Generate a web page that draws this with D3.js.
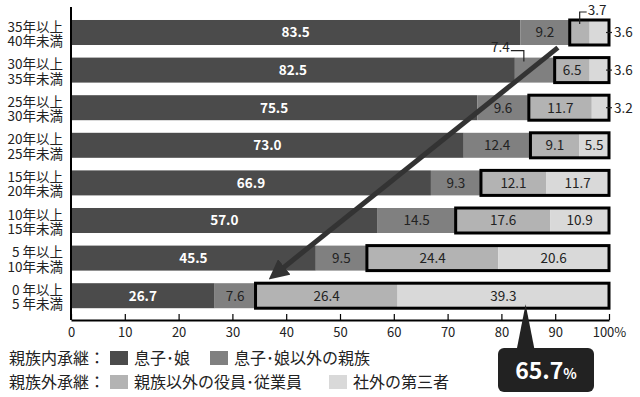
<!DOCTYPE html>
<html><head><meta charset="utf-8">
<script src="https://cdn.jsdelivr.net/npm/d3@7"></script>
<style>
body{margin:0;background:#fff}
text{font-family:'Noto Sans CJK JP','Noto Sans',sans-serif}
</style>
</head><body>
<svg width="640" height="397"></svg>
<script>
const categories = ['35年以上|40年未満', '30年以上|35年未満', '25年以上|30年未満', '20年以上|25年未満',
  '15年以上|20年未満', '10年以上|15年未満', '5 年以上|10年未満', '0 年以上|5 年未満'];
const sonDaughter = [83.5, 82.5, 75.5, 73.0, 66.9, 57.0, 45.5, 26.7];
const otherRelatives = [9.2, 7.4, 9.6, 12.4, 9.3, 14.5, 9.5, 7.6];
const employees = [3.7, 6.5, 11.7, 9.1, 12.1, 17.6, 24.4, 26.4];
const thirdParty = [3.6, 3.6, 3.2, 5.5, 11.7, 10.9, 20.6, 39.3];
const seriesNames = ['息子･娘', '息子･娘以外の親族', '親族以外の役員･従業員', '社外の第三者'];
const groupNames = ['親族内承継：', '親族外承継：'];
const xTicks = [0, 10, 20, 30, 40, 50, 60, 70, 80, 90, 100];
const calloutValue = '65.7';

const colors = ['#4b4b4b', '#808080', '#b3b3b3', '#d9d9d9'];
const keys = ['s0', 's1', 's2', 's3'];

const svg = d3.select('svg');

const data = categories.map((c, i) => ({
  cat: c, i,
  s0: sonDaughter[i], s1: otherRelatives[i], s2: employees[i], s3: thirdParty[i]
}));

const x = d3.scaleLinear().domain([0, 100]).range([71, 609]);
const y = d3.scaleBand().domain(categories).range([13.7, 314.5])
  .paddingInner(0.335).paddingOuter(0.1675);

const stacked = d3.stack().keys(keys)(data);

// small segments labelled outside the bar
const outside = {'0-2': 'top', '0-3': 'right', '1-1': 'topleft', '1-3': 'right', '2-3': 'right'};

const layers = svg.append('g').selectAll('g').data(stacked).enter().append('g')
  .attr('fill', (d, k) => colors[k]);

layers.selectAll('rect').data(d => d).enter().append('rect')
  .attr('x', d => x(d[0]))
  .attr('y', d => y(d.data.cat))
  .attr('width', d => x(d[1]) - x(d[0]))
  .attr('height', y.bandwidth());

// outlined boxes around the non-family succession part
svg.append('g').selectAll('rect').data(data).enter().append('rect')
  .attr('x', d => x(d.s0 + d.s1))
  .attr('y', d => y(d.cat))
  .attr('width', d => x(100) - x(d.s0 + d.s1))
  .attr('height', y.bandwidth())
  .attr('fill', 'none').attr('stroke', '#000').attr('stroke-width', 3);

// segment labels
stacked.forEach((layer, k) => {
  layer.forEach((d, i) => {
    const pos = outside[i + '-' + k];
    const cy = y(d.data.cat) + y.bandwidth() / 2;
    const cx = (x(d[0]) + x(d[1])) / 2;
    const val = (d[1] - d[0]).toFixed(1);
    if (!pos) {
      svg.append('text').attr('x', cx).attr('y', cy).attr('dy', '0.36em')
        .attr('text-anchor', 'middle').attr('font-size', 13.5)
        .attr('font-weight', k === 0 ? 'bold' : 'normal')
        .attr('fill', k === 0 ? '#fff' : '#222').text(val);
    } else if (pos === 'right') {
      svg.append('line').attr('x1', x(100) - 3).attr('x2', x(100) + 3)
        .attr('y1', cy).attr('y2', cy).attr('stroke', '#222').attr('stroke-width', 1.2);
      svg.append('text').attr('x', x(100) + 5).attr('y', cy).attr('dy', '0.36em')
        .attr('font-size', 13.5).attr('fill', '#222').text(val);
    } else if (pos === 'top') {
      const top = y(d.data.cat);
      svg.append('path').attr('d', `M${cx},${top + 4}V${top - 8}H${cx + 7}`)
        .attr('fill', 'none').attr('stroke', '#222').attr('stroke-width', 1.2);
      svg.append('text').attr('x', cx + 8).attr('y', top - 8).attr('dy', '0.2em')
        .attr('font-size', 13.5).attr('fill', '#222').text(val);
    } else if (pos === 'topleft') {
      const top = y(d.data.cat);
      const lx = x(d[0]) + 9;
      svg.append('path').attr('d', `M${lx},${top + 4}V${top - 7}H${lx - 13}`)
        .attr('fill', 'none').attr('stroke', '#222').attr('stroke-width', 1.2);
      svg.append('text').attr('x', lx - 14).attr('y', top - 7).attr('dy', '0.1em')
        .attr('text-anchor', 'end')
        .attr('font-size', 13.5).attr('fill', '#222').text(val);
    }
  });
});

// y category labels, two lines each
const yl = svg.append('g').selectAll('g').data(categories).enter().append('g')
  .attr('transform', d => `translate(63,${y(d) + y.bandwidth() / 2})`);
yl.append('text').attr('y', -1).attr('text-anchor', 'end').attr('font-size', 13.5)
  .attr('fill', '#222').text(d => d.split('|')[0]);
yl.append('text').attr('y', 13.5).attr('text-anchor', 'end').attr('font-size', 13.5)
  .attr('fill', '#222').text(d => d.split('|')[1]);

// left axis line
svg.append('line').attr('x1', x(0)).attr('x2', x(0)).attr('y1', 7).attr('y2', 320)
  .attr('stroke', '#000').attr('stroke-width', 2);

// x axis
const xAxis = d3.axisBottom(x).tickValues(xTicks).tickSize(-6).tickSizeOuter(0)
  .tickPadding(8).tickFormat(d => d === 100 ? '100%' : d);
const xg = svg.append('g').attr('transform', 'translate(0,320)').call(xAxis);
xg.select('.domain').attr('stroke', '#000').attr('stroke-width', 2);
xg.selectAll('.tick line').attr('stroke', '#000').attr('stroke-width', 1.2);
xg.selectAll('.tick text').attr('font-size', 13).attr('fill', '#222')
  .style('font-family', "'Noto Sans CJK JP',sans-serif");

// arrow
svg.append('defs').append('marker').attr('id', 'ah')
  .attr('viewBox', '0 0 10 10').attr('refX', 5).attr('refY', 5)
  .attr('markerWidth', 4).attr('markerHeight', 4).attr('orient', 'auto')
  .append('path').attr('d', 'M0,0L10,5L0,10z').attr('fill', '#333');
svg.append('line')
  .attr('x1', x(90.5)).attr('y1', y(categories[1]) - 10)
  .attr('x2', x(38.2)).attr('y2', y(categories[7]) - 10)
  .attr('stroke', '#333').attr('stroke-width', 5).attr('marker-end', 'url(#ah)');

// callout
const px = x(84.5);
svg.append('path')
  .attr('d', `M${px - 9},350L${px},${y(categories[7]) + y.bandwidth() - 4}L${px + 9},350Z`)
  .attr('fill', '#222');
svg.append('rect').attr('x', 498).attr('y', 348).attr('width', 96).attr('height', 44)
  .attr('rx', 6).attr('fill', '#222');
const ct = svg.append('text').attr('x', 546).attr('y', 379).attr('text-anchor', 'middle')
  .attr('fill', '#fff').attr('font-weight', 'bold');
ct.append('tspan').attr('font-size', 23).text(calloutValue);
ct.append('tspan').attr('font-size', 14).text('%');

// legend
const legend = svg.append('g');
const legRows = [[0, 1], [2, 3]];
const legX = [[110, 210], [110, 329]];
legRows.forEach((row, r) => {
  const cy = 358 + r * 24;
  legend.append('text').attr('x', 9).attr('y', cy).attr('dy', '0.36em')
    .attr('font-size', 16).attr('fill', '#222').text(groupNames[r]);
  row.forEach((k, j) => {
    legend.append('rect').attr('x', legX[r][j]).attr('y', cy - 7)
      .attr('width', 18).attr('height', 14).attr('fill', colors[k]);
    legend.append('text').attr('x', legX[r][j] + 24).attr('y', cy).attr('dy', '0.36em')
      .attr('font-size', 16).attr('fill', '#222').text(seriesNames[k]);
  });
});
</script>
</body></html>
